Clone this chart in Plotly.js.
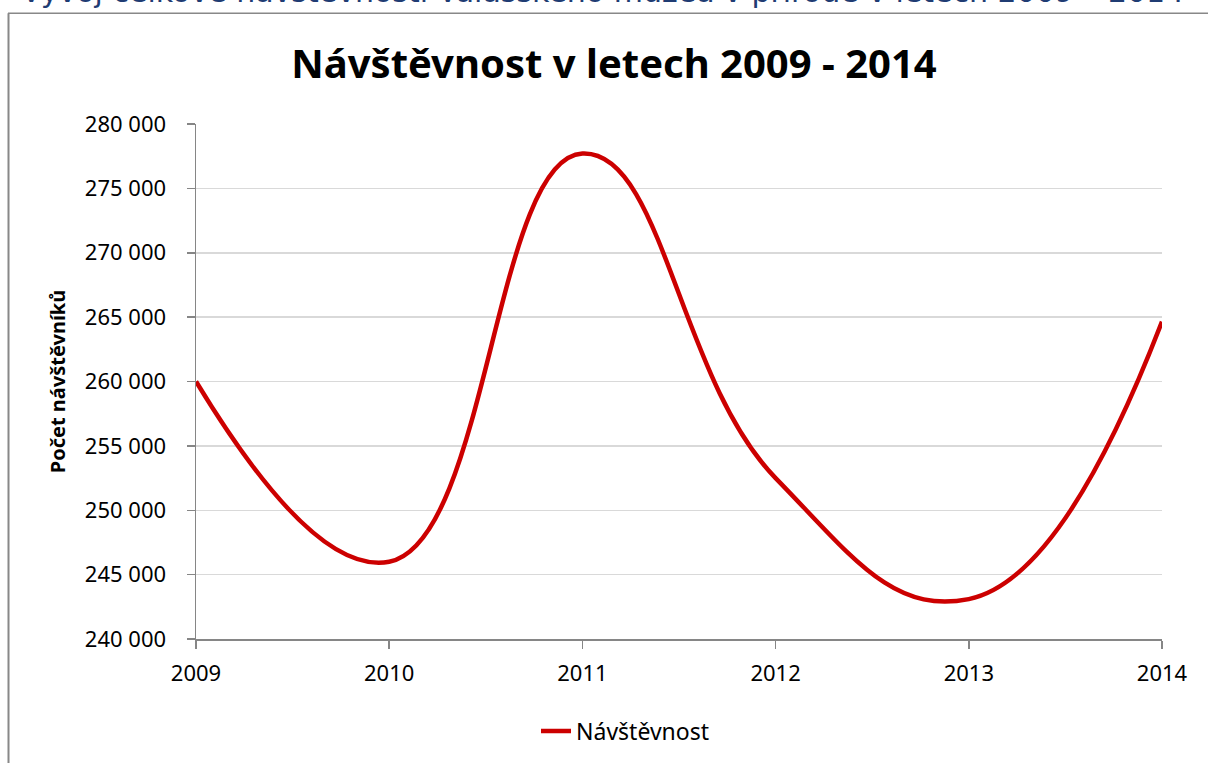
<!DOCTYPE html>
<html>
<head>
<meta charset="utf-8">
<script src="https://cdn.plot.ly/plotly-3.0.1.min.js"></script>
<style>
html,body{margin:0;padding:0;background:#fff;}
#chart{width:1208px;height:763px;}
</style>
</head>
<body>
<div id="chart"></div>
<script>
// Data
const years = [2009, 2010, 2011, 2012, 2013, 2014];
const visitors = [260000, 246000, 277700, 252500, 243100, 264650];
const seriesName = "Návštěvnost";
const chartTitle = "Návštěvnost v letech 2009 - 2014";
const yAxisTitle = "Počet návštěvníků";
const pageHeading = "Vývoj celkové návštěvnosti Valašského muzea v přírodě v letech 2009 – 2014";
const yTicks = [240000, 245000, 250000, 255000, 260000, 265000, 270000, 275000, 280000];

const L = 196, R = 46, T = 124, B = 123;
const W = 1208 - L - R, H = 763 - T - B;
const px = x => (x - L) / W;          // pixel -> paper x
const py = y => (763 - B - y) / H;    // pixel -> paper y

const font = "'Noto Sans', 'Open Sans', sans-serif";

const trace = {
  x: years,
  y: visitors,
  type: "scatter",
  mode: "lines",
  name: seriesName,
  line: {color: "#cc0000", width: 4.5, shape: "spline", smoothing: 1.3},
  hoverinfo: "x+y"
};

const layout = {
  width: 1208,
  height: 763,
  margin: {l: L, r: R, t: T, b: B},
  paper_bgcolor: "#ffffff",
  plot_bgcolor: "#ffffff",
  separators: ". ",
  showlegend: true,
  title: {
    text: "<b>" + chartTitle + "</b>",
    font: {family: font, size: 40, color: "#000000"},
    x: 614 / 1208, xref: "container", xanchor: "center",
    y: 1 - 64 / 763, yref: "container", yanchor: "middle"
  },
  xaxis: {
    range: [2009, 2014],
    tickvals: years,
    ticktext: years.map(String),
    showgrid: false,
    showline: true,
    linecolor: "#868686",
    linewidth: 1.5,
    ticks: "outside",
    ticklen: 8,
    tickcolor: "#868686",
    tickwidth: 1.5,
    ticklabelstandoff: 6,
    tickfont: {family: font, size: 22, color: "#000000"},
    zeroline: false,
    fixedrange: true
  },
  yaxis: {
    range: [240000, 280000],
    tickvals: yTicks,
    tickformat: ",.0f",
    showgrid: true,
    gridcolor: "#d9d9d9",
    gridwidth: 1.5,
    showline: true,
    linecolor: "#868686",
    linewidth: 1.5,
    ticks: "outside",
    ticklen: 8,
    tickcolor: "#868686",
    tickwidth: 1.5,
    ticklabelstandoff: 16,
    tickfont: {family: font, size: 22, color: "#000000"},
    zeroline: false,
    title: {
      text: "<b>" + yAxisTitle + "</b>",
      font: {family: font, size: 20, color: "#000000"},
      standoff: 14
    },
    fixedrange: true
  },
  legend: {
    orientation: "h",
    x: px(536), xanchor: "left",
    y: py(731), yanchor: "middle",
    font: {family: font, size: 23, color: "#000000"},
    bgcolor: "rgba(0,0,0,0)"
  },
  shapes: [
    {type: "line", xref: "paper", yref: "paper", x0: px(8.5), x1: px(8.5), y0: py(13), y1: py(800),
     line: {color: "#888888", width: 2}},
    {type: "line", xref: "paper", yref: "paper", x0: px(8), x1: px(1250), y0: py(13), y1: py(13),
     line: {color: "#888888", width: 1.5}}
  ],
  annotations: [
    {text: pageHeading, xref: "paper", yref: "paper", x: px(1186), xanchor: "right",
     y: py(11), yanchor: "bottom", showarrow: false,
     font: {family: "'DejaVu Sans', sans-serif", size: 30, color: "#1f3c73"}}
  ]
};

Plotly.newPlot("chart", [trace], layout, {displayModeBar: false, staticPlot: true});
</script>
</body>
</html>
